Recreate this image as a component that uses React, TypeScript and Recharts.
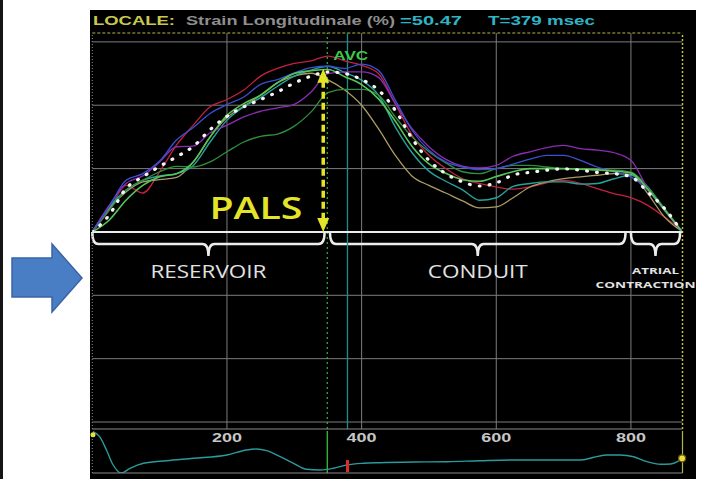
import React from 'react';
import {
  LineChart, Line, XAxis, YAxis, CartesianGrid, ReferenceLine, ReferenceArea, ReferenceDot,
} from 'recharts';

// time axis (ms) and strain (%) per segment
const times = [0, 25, 50, 75, 100, 125, 150, 175, 200, 225, 250, 275, 300, 325, 350, 375, 400, 425,
  450, 475, 500, 525, 550, 575, 600, 625, 650, 675, 700, 725, 750, 775, 800, 825, 850, 875];

const red = [0, 6.8, 14.7, 12.3, 19, 27.4, 33.7, 39.5, 41.8, 44.8, 49.2, 51.6, 53.2, 54, 55.5, 54, 52.6, 50,
  40.5, 30.5, 24.2, 20, 16.8, 15.3, 14.2, 13.5, 14.2, 15.5, 16.3, 15.3, 13.7, 12.1, 10.8, 8.4, 4.7, 0.5];
const blue = [0, 7.9, 16.3, 18.4, 22.4, 29, 33, 37.4, 40.2, 42.6, 46.6, 48.1, 50.2, 51.9, 52.3, 51.6, 53, 51,
  41.6, 32.1, 25.8, 22.1, 20.5, 19.7, 20, 21.4, 23, 24.2, 24.2, 22.6, 20.5, 19, 17.4, 13.2, 6.8, 0.5];
const purple = [0, 8.4, 15.3, 17.7, 22.1, 26.9, 27.1, 31.3, 33.7, 36.3, 38.1, 39.2, 40.3, 44.2, 50, 50.5, 50.5, 48.8,
  40.5, 32.6, 26.9, 22.9, 20.8, 20.2, 21, 23.9, 25.3, 26.6, 27.3, 26.3, 25.8, 25, 22.6, 13.7, 6.8, 0.5];
const olive = [0, 7.4, 12.6, 15.8, 16.5, 17.2, 22.1, 30, 36.1, 39.7, 43.2, 47.1, 49.2, 50.1, 48, 44.8, 40, 32.6,
  24.2, 17.6, 14.7, 12.3, 9.8, 7.6, 7.9, 10.8, 14.2, 15.8, 16.8, 17.4, 17.9, 18.4, 18.2, 12.1, 4.7, 0.3];
const teal = [0, 7.9, 13.2, 16.3, 17.7, 18.4, 21, 28.4, 35.3, 39.5, 42.4, 46, 49.2, 51.1, 52.3, 50.3, 47.9, 43.2,
  33.2, 25, 19.2, 16, 13.3, 10, 10.8, 14.4, 15.3, 15.8, 15.8, 15.1, 15.3, 16.8, 17.9, 14.2, 6.8, 0.5];
const darkGreen = [0, 6.8, 13.2, 16.3, 19, 20.7, 20.5, 22.1, 25.3, 28.4, 30.2, 30.9, 33.4, 37.9, 44, 45, 45, 43.2,
  36.3, 30, 25.3, 21.8, 19, 18.4, 20, 21, 21, 20.5, 20, 20, 19.5, 19.5, 18.9, 14.2, 7.4, 0.5];
const lightGreen = [0, 3.7, 10, 14.7, 17.4, 18.4, 22.1, 30, 36.8, 40.5, 43.2, 47.1, 50, 50.9, 51.3, 49, 46.5, 42,
  35, 27, 21.5, 18.5, 16.5, 16, 17.5, 19, 20, 20, 20, 19.8, 19.6, 19.2, 18.6, 13.5, 7, 0.3];
const average = [0, 5.3, 13.7, 17.4, 20.7, 23.7, 27, 32.3, 36.5, 39.5, 41.8, 44.2, 47, 49.2, 50.5, 50, 48.1, 44.8,
  38.4, 29.5, 22.6, 18.4, 15.8, 14.5, 15.5, 18, 18.8, 19.5, 19.9, 19.5, 18.8, 18.4, 17.4, 12.6, 7.4, 0.3];

// lower strip trace
const stripTimes = [1, 11, 21, 31, 43, 56, 76, 110, 150, 200, 229, 244, 259, 279, 299, 318, 338, 358, 378, 403,
  427, 477, 527, 576, 625, 675, 725, 745, 765, 784, 804, 824, 844, 859, 869, 876];
const stripValues = [41.3, 36.3, 23, 8, 0, 4.7, 9.7, 12.3, 14.7, 18, 23, 24, 22.3, 16.3, 9.7, 3.7, 3, 4.7, 8, 9.7,
  10.3, 11, 11.3, 12.3, 13, 13, 13, 15.7, 18, 18, 16.3, 11.3, 8.7, 9, 11.3, 14.7];

const timeTicks = [200, 400, 600, 800];
const stripTicks = [100, 200, 300, 400, 500, 600, 700, 800];
const strainGrid = [-60, -40, -20, 0, 20, 40, 60];

const cursorT = 379;
const cursorStrain = 50.47;
const avcT = 349;
const palsT = 343;
const palsPeak = 51.5;

const phaseStart = [0, 353, 800];
const phaseEnd = [345, 792, 873];
const phaseLabels = [['RESERVOIR'], ['CONDUIT'], ['ATRIAL', 'CONTRACTION']];

const X_MAX = 876.6;
const Y_MIN = -62.2;
const Y_MAX = 62.8;

const series = [
  { key: 'red', values: red, color: '#c42040', width: 1.3 },
  { key: 'olive', values: olive, color: '#ab9c62', width: 1.3 },
  { key: 'teal', values: teal, color: '#25a39a', width: 1.4 },
  { key: 'darkGreen', values: darkGreen, color: '#2f8f3c', width: 1.3 },
  { key: 'purple', values: purple, color: '#8c2cb4', width: 1.3 },
  { key: 'blue', values: blue, color: '#3a50d2', width: 1.3 },
  { key: 'lightGreen', values: lightGreen, color: '#56c458', width: 1.6 },
];

const rows = times.map((t, i) => {
  const row: Record<string, number> = { t, avg: average[i] };
  series.forEach((s) => { row[s.key] = s.values[i]; });
  return row;
});
const stripRows = stripTimes.map((t, i) => ({ t, h: stripValues[i] }));

const W = 704;
const H = 479;
const margin = { top: 33, right: 21.5, bottom: 30, left: 92.3 };

function TimeTick(props: any) {
  const { x, y, payload } = props;
  return (
    <text x={x} y={y + 10} textAnchor="middle" fill="#c6c6c6" fontSize={13} fontWeight="bold"
      fontFamily="Liberation Sans, Arial" textLength={30} lengthAdjust="spacingAndGlyphs">
      {payload.value}
    </text>
  );
}

function Brace(props: any) {
  const { x, y, width, height } = props;
  const m = 12;
  const r = 6;
  const cx = x + width / 2;
  const d = `M${x},${y} Q${x},${y + m} ${x + r},${y + m} L${cx - r},${y + m} Q${cx},${y + m} ${cx},${y + height}`
    + ` Q${cx},${y + m} ${cx + r},${y + m} L${x + width - r},${y + m} Q${x + width},${y + m} ${x + width},${y}`;
  return <path d={d} fill="none" stroke="#ececec" strokeWidth={2.5} />;
}

function PalsArrow(props: any) {
  const { x1, y1, x2, y2 } = props;
  const c = '#e4e428';
  return (
    <g>
      <line x1={x1} y1={y1 + 12} x2={x2} y2={y2 - 12} stroke={c} strokeWidth={3.5} strokeDasharray="7 4" />
      <polygon points={`${x1},${y1} ${x1 - 6},${y1 + 14} ${x1 + 6},${y1 + 14}`} fill={c} />
      <polygon points={`${x2},${y2} ${x2 - 6},${y2 - 14} ${x2 + 6},${y2 - 14}`} fill={c} />
    </g>
  );
}

function phaseText(i: number) {
  return (p: any) => {
    const lines = phaseLabels[i];
    if (lines.length === 1) {
      return (
        <text x={p.cx} y={p.cy} textAnchor="middle" dominantBaseline="central" fill="#e2e2e2" fontSize={18}
          fontFamily="Open Sans" textLength={i === 0 ? 116 : 100} lengthAdjust="spacingAndGlyphs">
          {lines[0]}
        </text>
      );
    }
    return (
      <g fontFamily="Open Sans" fontWeight="bold" fontSize={9.5} fill="#e2e2e2">
        <text x={p.cx} y={p.cy} textAnchor="middle" dominantBaseline="central" textLength={47}
          lengthAdjust="spacingAndGlyphs">{lines[0]}</text>
        <text x={p.cx - 10} y={p.cy + 13.5} textAnchor="middle" dominantBaseline="central" textLength={100}
          lengthAdjust="spacingAndGlyphs">{lines[1]}</text>
      </g>
    );
  };
}

function MainChart() {
  return (
    <LineChart width={W} height={H} data={rows} margin={margin}>
      <CartesianGrid stroke="#7c7c7c" strokeWidth={1} horizontalValues={strainGrid} verticalValues={timeTicks} />
      <XAxis dataKey="t" type="number" domain={[0, X_MAX]} ticks={timeTicks} interval={0} height={20}
        allowDataOverflow axisLine={{ stroke: '#8a8a8a' }} tickLine={false} tickSize={0} tickMargin={3}
        tick={(p: any) => <TimeTick {...p} />} />
      <YAxis type="number" domain={[Y_MIN, Y_MAX]} ticks={strainGrid} hide allowDataOverflow />
      <ReferenceLine y={Y_MAX} stroke="#b8b840" strokeWidth={1.2} strokeDasharray="3 2" ifOverflow="visible" />
      <ReferenceLine x={0} stroke="#8a8a8a" strokeDasharray="1 2" ifOverflow="visible" />
      <ReferenceLine x={X_MAX} stroke="#c4c440" strokeWidth={1.5} strokeDasharray="2 2" ifOverflow="visible" />
      <ReferenceLine x={avcT} stroke="#3cb43c" strokeWidth={1.2} strokeDasharray="2 3" />
      <ReferenceLine x={cursorT} stroke="#1f8c8c" strokeWidth={1.3} />
      <ReferenceLine y={0} stroke="#ececec" strokeWidth={2} />
      {phaseStart.map((s, i) => (
        <ReferenceArea key={`b${i}`} x1={s} x2={phaseEnd[i]} y1={0} y2={-7.6} shape={<Brace />} ifOverflow="visible" />
      ))}
      {series.map((s) => (
        <Line key={s.key} dataKey={s.key} type="monotone" stroke={s.color} strokeWidth={s.width}
          dot={false} activeDot={false} isAnimationActive={false} />
      ))}
      <Line dataKey="avg" type="monotone" stroke="#f4f4f4" strokeWidth={3.2} strokeDasharray="0.8 9.2"
        strokeLinecap="round" dot={false} activeDot={false} isAnimationActive={false} />
      <ReferenceLine segment={[{ x: palsT, y: palsPeak }, { x: palsT, y: 0 }]} shape={(p: any) => <PalsArrow {...p} />} />
      <ReferenceDot x={243} y={4.1} r={0} shape={(p: any) => (
        <text x={p.cx} y={p.cy} textAnchor="middle" fill="#e4e428" fontSize={31} fontWeight={600}
          fontFamily="Open Sans" textLength={93} lengthAdjust="spacingAndGlyphs">PALS</text>
      )} />
      <ReferenceDot x={avcT} y={54.3} r={0} shape={(p: any) => (
        <text x={p.cx + 6} y={p.cy} fill="#3cc84c" fontSize={13} fontWeight="bold" fontFamily="Liberation Sans, Arial"
          textLength={35} lengthAdjust="spacingAndGlyphs">AVC</text>
      )} />
      {phaseStart.map((s, i) => (
        <ReferenceDot key={`l${i}`} x={(s + phaseEnd[i]) / 2} y={-12.3} r={0} shape={phaseText(i)} ifOverflow="visible" />
      ))}
    </LineChart>
  );
}

function StripChart() {
  const last = stripTimes.length - 1;
  return (
    <LineChart width={W} height={H} data={stripRows} margin={{ top: 431, right: 21.5, bottom: 6, left: 92.3 }}>
      <XAxis dataKey="t" type="number" domain={[0, X_MAX]} ticks={stripTicks} interval={0} mirror allowDataOverflow
        tick={false} tickSize={3} tickLine={{ stroke: '#b0a46a' }} axisLine={{ stroke: '#8a8a8a' }} />
      <YAxis type="number" domain={[0, 42]} hide allowDataOverflow />
      <ReferenceLine x={0} stroke="#8a8a8a" strokeDasharray="1 2" ifOverflow="visible" />
      <ReferenceLine x={X_MAX} stroke="#b4b44c" strokeWidth={1.2} ifOverflow="visible" />
      <ReferenceLine x={avcT} stroke="#36c036" strokeWidth={1.3} />
      <Line dataKey="h" type="monotone" stroke="#2a9a9c" strokeWidth={1.4} dot={false} activeDot={false}
        isAnimationActive={false} />
      <ReferenceLine segment={[{ x: cursorT, y: 1 }, { x: cursorT, y: 13 }]} stroke="#e02828" strokeWidth={3} />
      <ReferenceDot x={stripTimes[0]} y={stripValues[0] - 3} r={2.5} fill="#e8e040" stroke="none" ifOverflow="visible" />
      <ReferenceDot x={stripTimes[last]} y={stripValues[last]} r={3.5} fill="#e8e040" stroke="#6a5a10"
        strokeWidth={1.2} ifOverflow="visible" />
    </LineChart>
  );
}

function Header() {
  const font = 'Liberation Sans, Arial';
  return (
    <svg width={W} height={33} style={{ position: 'absolute', left: 0, top: 0 }}>
      <g fontSize={13} fontWeight="bold" fontFamily={font}>
        <text x={93} y={25} fill="#c8c850" textLength={82} lengthAdjust="spacingAndGlyphs">LOCALE:</text>
        <text x={186} y={25} fill="#8e8e8e" textLength={209} lengthAdjust="spacingAndGlyphs">
          Strain Longitudinale (%)
        </text>
        <text x={400} y={25} fill="#2fb4c4" textLength={62} lengthAdjust="spacingAndGlyphs">
          ={cursorStrain.toFixed(2)}
        </text>
        <text x={488} y={25} fill="#2fb4c4" textLength={107} lengthAdjust="spacingAndGlyphs">
          T={cursorT} msec
        </text>
      </g>
    </svg>
  );
}

export default function App() {
  return (
    <div style={{ position: 'absolute', left: 0, top: 0, width: W, height: H, background: '#fff', overflow: 'hidden' }}>
      <div style={{ position: 'absolute', left: 0, top: 0, width: 3, height: H, background: '#151515' }} />
      <div style={{ position: 'absolute', left: 90, top: 10, width: 606, height: H - 10, background: '#000' }} />
      <svg width={90} height={H} style={{ position: 'absolute', left: 0, top: 0 }}>
        <polygon points="12,258 52,258 52,244 82,278 52,312 52,297 12,297" fill="#4a7ec4" stroke="#3a64a6" strokeWidth={1.5} />
      </svg>
      <Header />
      <div style={{ position: 'absolute', left: 0, top: 0 }}>
        <MainChart />
      </div>
      <div style={{ position: 'absolute', left: 0, top: 0 }}>
        <StripChart />
      </div>
    </div>
  );
}
